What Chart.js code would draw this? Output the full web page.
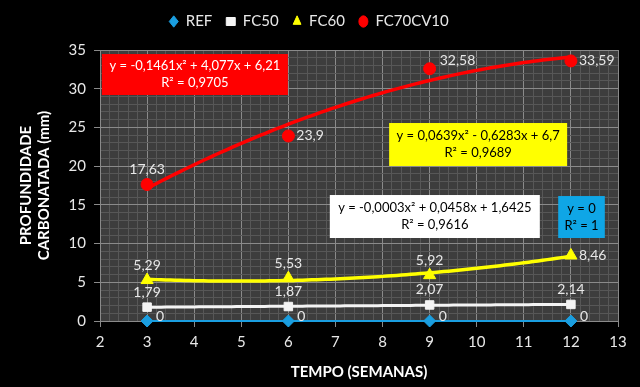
<!DOCTYPE html>
<html><head><meta charset="utf-8">
<script src="https://cdn.jsdelivr.net/npm/chart.js@4.4.1/dist/chart.umd.min.js"></script>
<style>html,body{margin:0;padding:0;background:#000;}canvas{display:block;}</style>
</head><body>
<canvas id="c" width="640" height="387"></canvas>
<script>
// ---- data ----
const weeks = [3, 6, 9, 12];
const seriesNames = ['REF', 'FC50', 'FC60', 'FC70CV10'];
const refValues = [0, 0, 0, 0];
const fc50Values = [1.79, 1.87, 2.07, 2.14];
const fc60Values = [5.29, 5.53, 5.92, 8.46];
const fc70Values = [17.63, 23.9, 32.58, 33.59];
// polynomial trendline coefficients (a, b, c) as printed on the chart
const refTrend = [0, 0, 0];
const fc50Trend = [-0.0003, 0.0458, 1.6425];
const fc60Trend = [0.0639, -0.6283, 6.7];
const fc70Trend = [-0.1461, 4.077, 6.21];
const refEquation = ['y = 0', 'R² = 1'];
const fc50Equation = ['y = -0,0003x² + 0,0458x + 1,6425', 'R² = 0,9616'];
const fc60Equation = ['y = 0,0639x² - 0,6283x + 6,7', 'R² = 0,9689'];
const fc70Equation = ['y = -0,1461x² + 4,077x + 6,21', 'R² = 0,9705'];
const xTitle = 'TEMPO (SEMANAS)';
const yTitle = ['PROFUNDIDADE', 'CARBONATADA (mm)'];

// ---- styles / layout ----
const FONT = 'Lato, "Open Sans", sans-serif';
const TXT = '#e8e8e8';
const colors = { REF: '#1a9ee0', FC50: '#f4f4f4', FC60: '#ffff00', FC70CV10: '#ff0000' };
const pointStyles = { REF: 'rectRot', FC50: 'rect', FC60: 'triangle', FC70CV10: 'circle' };
const pointRadius = { REF: 6, FC50: 6, FC60: 7, FC70CV10: 6 };
const trendWidth = { REF: 2, FC50: 3, FC60: 3.5, FC70CV10: 3.5 };
// label placement per point: t = above, r = right, ru = right-up, rd = right-down
const labelPlace = {
  REF: ['rd', 'rd', 'rd', 'rd'],
  FC50: ['t', 't', 't', 't'],
  FC60: ['t', 't', 't', 'r'],
  FC70CV10: ['t', 'r', 'ru', 'r']
};
// equation boxes in data coordinates [x0, y0, x1, y1]
const eqBoxes = [
  { lines: fc70Equation, rect: [2.04, 34.48, 5.99, 29.19], fill: '#ff0000', text: '#ffffff' },
  { lines: fc60Equation, rect: [8.14, 25.57, 11.92, 20.02], fill: '#ffff00', text: '#000000' },
  { lines: fc50Equation, rect: [6.88, 16.27, 11.34, 10.72], fill: '#ffffff', text: '#000000' },
  { lines: refEquation, rect: [11.73, 16.14, 12.72, 10.72], fill: '#0fa6e6', text: '#000000' }
];

const allValues = [refValues, fc50Values, fc60Values, fc70Values];
const allTrends = [refTrend, fc50Trend, fc60Trend, fc70Trend];

function trendPoints(coef) {
  const pts = [];
  const x0 = weeks[0], x1 = weeks[weeks.length - 1];
  for (let i = 0; i <= 90; i++) {
    const x = x0 + (x1 - x0) * i / 90;
    pts.push({ x: x, y: coef[0] * x * x + coef[1] * x + coef[2] });
  }
  return pts;
}

const datasets = [];
seriesNames.forEach((name, i) => {
  datasets.push({
    label: name,
    data: weeks.map((w, j) => ({ x: w, y: allValues[i][j] })),
    showLine: false,
    pointStyle: pointStyles[name],
    pointRadius: pointRadius[name],
    pointHoverRadius: pointRadius[name],
    backgroundColor: colors[name],
    borderColor: colors[name],
    borderWidth: 1,
    clip: false,
    order: 0
  });
});
seriesNames.forEach((name, i) => {
  datasets.push({
    label: name + ' trend',
    data: trendPoints(allTrends[i]),
    showLine: true,
    pointRadius: 0,
    borderColor: colors[name],
    borderWidth: trendWidth[name],
    tension: 0,
    clip: false,
    order: 1
  });
});

const isInt = v => Math.abs(v - Math.round(v)) < 1e-6;

const legendGap = {
  id: 'legendGap',
  beforeUpdate(chart) {
    const lg = chart.legend;
    if (lg && !lg._gapPatched) {
      const orig = lg.fit.bind(lg);
      lg.fit = function () { orig(); this.height += 11; };
      lg._gapPatched = true;
    }
  }
};

const deco = {
  id: 'deco',
  beforeDraw(chart) {
    const ctx = chart.ctx, a = chart.chartArea;
    ctx.save();
    ctx.fillStyle = '#000';
    ctx.fillRect(0, 0, chart.width, chart.height);
    ctx.fillStyle = '#3d3d3d';
    ctx.fillRect(a.left, a.top, a.right - a.left, a.bottom - a.top);
    ctx.restore();
  },
  afterDatasetsDraw(chart) {
    const ctx = chart.ctx, xs = chart.scales.x, ys = chart.scales.y;
    ctx.save();
    // equation boxes
    eqBoxes.forEach(b => {
      const x0 = xs.getPixelForValue(b.rect[0]), y0 = ys.getPixelForValue(b.rect[1]);
      const x1 = xs.getPixelForValue(b.rect[2]), y1 = ys.getPixelForValue(b.rect[3]);
      ctx.fillStyle = b.fill;
      ctx.fillRect(x0, y0, x1 - x0, y1 - y0);
      ctx.fillStyle = b.text;
      ctx.font = '13px ' + FONT;
      ctx.textAlign = 'center';
      ctx.textBaseline = 'middle';
      const cx = (x0 + x1) / 2, cy = (y0 + y1) / 2;
      ctx.fillText(b.lines[0], cx, cy - 8.5);
      ctx.fillText(b.lines[1], cx, cy + 8.5);
    });
    // data labels
    ctx.font = '14px ' + FONT;
    ctx.fillStyle = TXT;
    seriesNames.forEach((name, i) => {
      const meta = chart.getDatasetMeta(i);
      meta.data.forEach((el, j) => {
        const txt = String(allValues[i][j]).replace('.', ',');
        const p = labelPlace[name][j];
        let x = el.x, y = el.y;
        if (p === 't') { ctx.textAlign = 'center'; ctx.textBaseline = 'middle'; y -= 15; }
        else if (p === 'r') { ctx.textAlign = 'left'; ctx.textBaseline = 'middle'; x += 8; }
        else if (p === 'ru') { ctx.textAlign = 'left'; ctx.textBaseline = 'middle'; x += 10; y -= 8; }
        else { ctx.textAlign = 'left'; ctx.textBaseline = 'middle'; x += 9; y -= 5; }
        ctx.fillText(txt, x, y);
      });
    });
    ctx.restore();
  }
};

new Chart(document.getElementById('c'), {
  type: 'scatter',
  data: { datasets: datasets },
  options: {
    responsive: false,
    animation: false,
    devicePixelRatio: 1,
    layout: { padding: { top: 0, right: 22, left: 0, bottom: 0 } },
    plugins: {
      tooltip: { enabled: false },
      legend: {
        position: 'top',
        labels: {
          filter: item => item.datasetIndex < 4,
          usePointStyle: true,
          pointStyleWidth: 9,
          boxWidth: 8,
          boxHeight: 8,
          padding: 14,
          color: TXT,
          font: { family: FONT, size: 15 }
        }
      }
    },
    scales: {
      x: {
        type: 'linear',
        min: 2, max: 13,
        afterFit: s => { s.height = 66; },
        ticks: {
          stepSize: 0.2, autoSkip: false, maxRotation: 0, padding: 6,
          callback: v => isInt(v) ? String(Math.round(v)) : '',
          color: TXT, font: { family: FONT, size: 15 }
        },
        grid: {
          color: c => isInt(c.tick.value) ? '#8a8a8a' : '#575757',
          tickColor: c => isInt(c.tick.value) ? '#8a8a8a' : 'rgba(0,0,0,0)',
          tickLength: 6, lineWidth: 1
        },
        border: { color: '#8a8a8a' },
        title: { display: true, text: xTitle, color: '#ffffff', font: { family: FONT, size: 15, weight: 'bold' }, padding: { top: 4, bottom: 6 } }
      },
      y: {
        min: 0, max: 35,
        afterFit: s => { s.width = 100; },
        ticks: {
          stepSize: 1, autoSkip: false, padding: 8,
          callback: v => (isInt(v) && Math.round(v) % 5 === 0) ? String(Math.round(v)) : '',
          color: TXT, font: { family: FONT, size: 15 }
        },
        grid: {
          color: c => (Math.round(c.tick.value) % 5 === 0) ? '#8a8a8a' : '#575757',
          tickColor: c => (Math.round(c.tick.value) % 5 === 0) ? '#8a8a8a' : 'rgba(0,0,0,0)',
          tickLength: 6, lineWidth: 1
        },
        border: { color: '#8a8a8a' },
        title: { display: true, text: yTitle, color: '#ffffff', font: { family: FONT, size: 15, weight: 'bold' }, padding: { top: 17, bottom: 0 } }
      }
    }
  },
  plugins: [legendGap, deco]
});
</script>
</body></html>
